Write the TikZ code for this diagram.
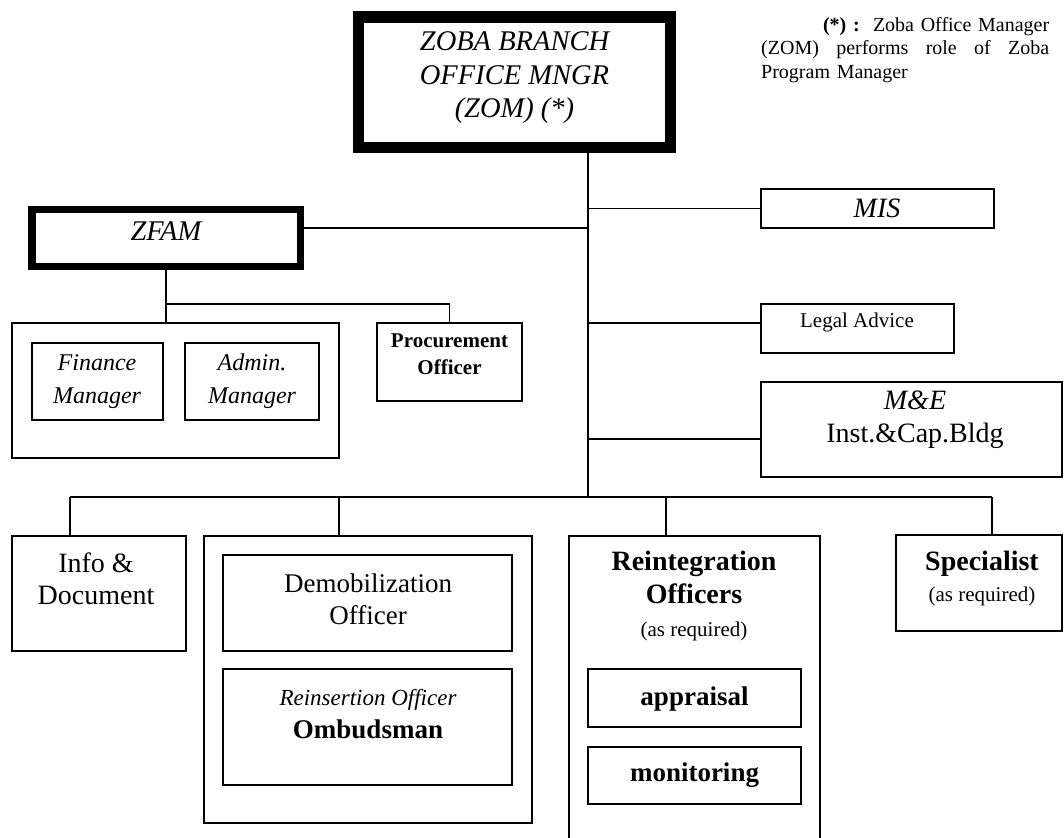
\documentclass[tikz,border=0pt]{standalone}
\usepackage{fontspec}
\setmainfont{Liberation Serif}
\begin{document}
\begin{tikzpicture}[x=1pt,y=-1pt,
  box/.style={draw,line width=1.4pt,inner sep=0pt,outer sep=0pt},
  heavy/.style={draw,line width=#1,inner sep=0pt,outer sep=0pt},
  conn/.style={line width=1.4pt},
  txt/.style={inner sep=0pt,align=center}]
\useasboundingbox[fill=white] (0,0) rectangle (1064,837);

% top manager
\node[heavy=11.5pt,minimum width=312pt,minimum height=130.5pt] (zom) at (514.5,82.25) {};
\node[txt,font=\fontsize{28.5}{33.5}\selectfont\itshape] (zomT) at (514.5,78) {ZOBA BRANCH\\OFFICE MNGR\\(ZOM) (*)};

% note
\node[anchor=north west,inner sep=0pt,text width=288pt,align=left,font=\fontsize{20}{23.5}\selectfont] (note) at (761,17)
 {\makebox[288pt][l]{\hfill\textbf{(*) :}\ \ Zoba Office Manager}\\
  \makebox[288pt][l]{(ZOM)\hfill performs\hfill role\hfill of\hfill Zoba}\\
  \makebox[288pt][l]{Program Manager\hfill}};

% trunk
\coordinate (jB) at (588,497);
\draw[conn] (zom.south -| jB) -- (jB);

% MIS
\node[box,minimum width=233pt,minimum height=39pt] (mis) at (877.5,208.5) {};
\node[txt,font=\fontsize{28}{33}\selectfont\itshape] (misT) at (877,208.5) {MIS};
\draw[conn] (mis.west) -- (mis.west -| jB);

% Legal
\node[box,minimum width=193pt,minimum height=49pt] (legal) at (857.5,328.5) {};
\node[txt,font=\fontsize{21}{25}\selectfont] (legalT) at (857,322) {Legal Advice};
\coordinate (jL) at (588,323);
\draw[conn] (jL) -- (jL -| legal.west);

% M&E
\node[box,minimum width=301pt,minimum height=95pt] (me) at (911.5,429.5) {};
\node[txt,font=\fontsize{28}{33}\selectfont] (meT) at (915,419.5) {\textit{M\&E}\\Inst.\&Cap.Bldg};
\coordinate (jM) at (588,439);
\draw[conn] (jM) -- (jM -| me.west);

% ZFAM
\node[heavy=7.5pt,minimum width=268.5pt,minimum height=57pt] (zfam) at (166.25,238) {};
\node[txt,font=\fontsize{28.5}{33}\selectfont\itshape] (zfamT) at (166,231) {ZFAM};
\coordinate (jZ) at (588,228);
\draw[conn] (jZ -| zfam.east) -- (jZ);

% ZFAM subtree
\coordinate (jF) at (166,304);
\node[box,minimum width=327pt,minimum height=135pt] (fa) at (175.5,390.5) {};
\node[box,minimum width=145pt,minimum height=78pt] (proc) at (449.5,362) {};
\draw[conn] (zfam.south -| jF) -- (jF) -- (fa.north -| jF);
\draw[conn] (jF) -- (jF -| proc.north) -- (proc.north);
\node[box,minimum width=131pt,minimum height=77pt] (fin) at (97.5,381.5) {};
\node[txt,font=\fontsize{24}{33}\selectfont\itshape] (finT) at (97,381.5) {Finance\\Manager};
\node[box,minimum width=134pt,minimum height=77pt] (adm) at (252,381.5) {};
\node[txt,font=\fontsize{24}{33}\selectfont\itshape] (admT) at (252,381.5) {Admin.\\Manager};
\node[txt,font=\fontsize{21}{27}\selectfont\bfseries] (procT) at (449.5,354.5) {Procurement\\Officer};

% bus
\coordinate (bL) at (70,497);
\coordinate (bD) at (339,497);
\coordinate (bI) at (666,497);
\coordinate (bR) at (992,497);
\draw[conn] (bL) -- (bR);

% Info
\node[box,minimum width=174pt,minimum height=115pt] (info) at (99,593.5) {};
\node[txt,font=\fontsize{28}{32}\selectfont] (infoT) at (96,579) {Info \&\\Document};
\draw[conn] (bL) -- (bL |- info.north);

% Demobilization group
\node[box,minimum width=328pt,minimum height=287pt] (dem) at (368,679.5) {};
\draw[conn] (bD) -- (bD |- dem.north);
\node[box,minimum width=289pt,minimum height=96pt] (demo) at (367.5,603) {};
\node[txt,font=\fontsize{27}{32}\selectfont] (demoT) at (368,599) {Demobilization\\Officer};
\node[box,minimum width=289pt,minimum height=116pt] (reins) at (367.5,727) {};
\node[txt,font=\fontsize{27}{33}\selectfont] (reinsT) at (368,714.5) {{\fontsize{23}{33}\selectfont\itshape Reinsertion Officer}\\{\bfseries Ombudsman}};

% Reintegration group
\node[box,minimum width=251pt,minimum height=320pt] (reint) at (694.5,696) {};
\draw[conn] (bI) -- (bI |- reint.north);
\node[txt,font=\fontsize{28}{33}\selectfont] (reintT) at (694,596.5) {\textbf{Reintegration}\\\textbf{Officers}\\{\fontsize{21}{25}\selectfont(as required)}};
\node[box,minimum width=213pt,minimum height=58pt] (appr) at (694.5,698) {};
\node[txt,font=\fontsize{27}{33}\selectfont\bfseries] (apprT) at (694.5,698.5) {appraisal};
\node[box,minimum width=213pt,minimum height=57pt] (mon) at (694.5,775.5) {};
\node[txt,font=\fontsize{27}{33}\selectfont\bfseries] (monT) at (694.5,775.5) {monitoring};

% Specialist
\node[box,minimum width=166pt,minimum height=96pt] (spec) at (979,583) {};
\draw[conn] (bR) -- (bR |- spec.north);
\node[txt,font=\fontsize{28}{31}\selectfont] (specT) at (982,578.5) {\textbf{Specialist}\\{\fontsize{21}{25}\selectfont(as required)}};
\end{tikzpicture}
\end{document}
